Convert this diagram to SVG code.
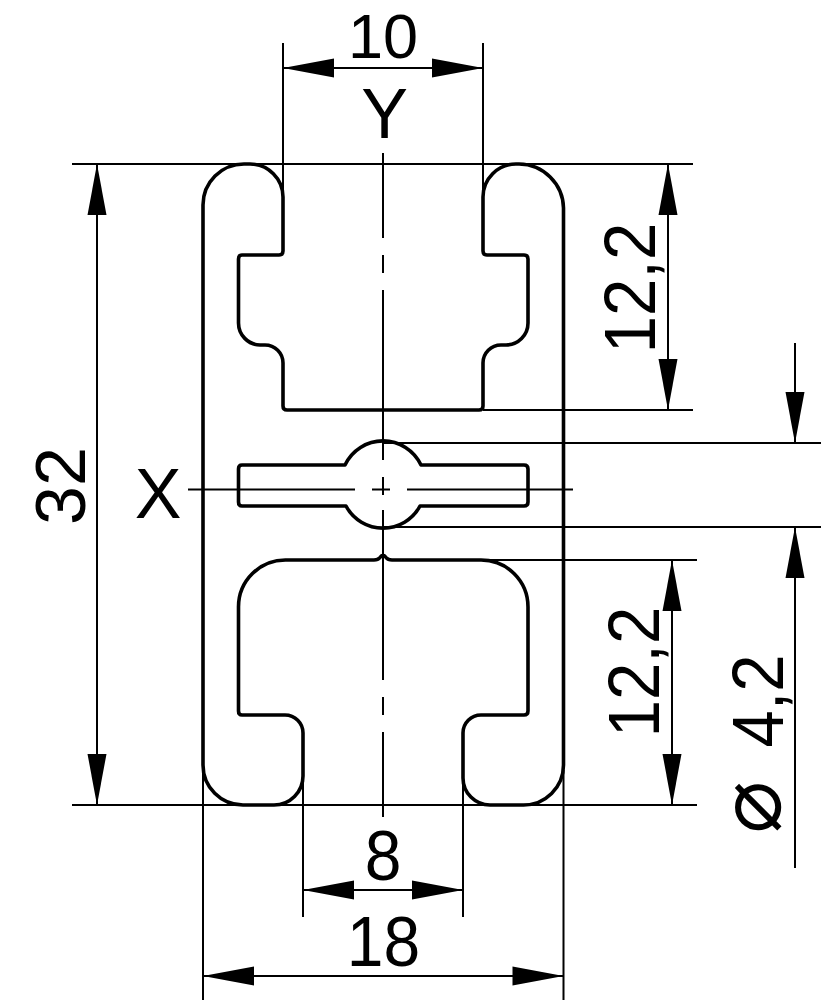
<svg xmlns="http://www.w3.org/2000/svg" width="825" height="1000" viewBox="0 0 825 1000">
<style>
.p{fill:none;stroke:#000;stroke-width:3.6;stroke-linejoin:round}
.d{fill:none;stroke:#000;stroke-width:2}
.a{fill:#000;stroke:none}
text{font-family:"Liberation Sans",Arial,sans-serif;font-size:70px;fill:#000;text-anchor:middle}
text.t{font-size:63px}
text.n{font-size:66px}
text.m{font-size:67px}
text.phi{font-family:"DejaVu Sans",sans-serif;font-size:88px}
</style>
<defs>
<polygon id="ah" class="a" points="0,0 -51,-9.500 -51,9.500"/>
</defs>
<rect width="825" height="1000" fill="#fff"/>
<g id="profile">
<path class="p" d="M203 205A41 41 0 0 1 244 164H250A33 33 0 0 1 283 197V251Q283 255 279 255H242Q238.500 255 238.500 259V323A22 22 0 0 0 260 345H265A18 18 0 0 1 283 363V406Q283 410 287 410H479Q483 410 483 406V363A18 18 0 0 1 501 345H506A22 22 0 0 0 528 323V259Q528 255 524 255H487Q483 255 483 251V197A33 33 0 0 1 516 164H519A45 45 0 0 1 563.500 208V765A40 40 0 0 1 523 805H490A27 27 0 0 1 463 778V733A18 18 0 0 1 481 715H524Q528 715 528 711V607A47 47 0 0 0 481 560H392Q388 560 386 557.500Q383 553 380 557.500Q378 560 374 560H286A47 47 0 0 0 238.500 607V711Q238.500 715 242 715H285A18 18 0 0 1 303 733V776A29 29 0 0 1 274 805H243A40 40 0 0 1 203 765Z"/>
<path class="p" d="M242 465H345A42 42 0 0 1 421 465H524Q528 465 528 469V502Q528 506 524 506H420A42 42 0 0 1 346 506H242Q238.500 506 238.500 502V469Q238.500 465 242 465Z"/>
</g>
<g id="connectors">
<path class="d" d="M383 153V238M383 255V273M383 290V460M383 477V495M383 510V680M383 697V715M383 732V817"/>
<path class="d" d="M188 489.500H355M372 489.500H390M407 489.500H573"/>
<path class="d" d="M72 164H693M72 805H697M483 410H693M480 560H697M383 443H821M383 527H821"/>
<path class="d" d="M283 43V190M483 43V190M303 780V917M463 780V917M203 770V1000M563.500 770V1000"/>
<path class="d" d="M283 68H483M303 890H463M203 976H563.500M97 164V805M668 164V410M672 560V805M795 343V443M795 527V868"/>
<use href="#ah" transform="translate(283 68) rotate(180)"/>
<use href="#ah" transform="translate(483 68)"/>
<use href="#ah" transform="translate(303 890) rotate(180)"/>
<use href="#ah" transform="translate(463 890)"/>
<use href="#ah" transform="translate(203 976) rotate(180)"/>
<use href="#ah" transform="translate(563.500 976)"/>
<use href="#ah" transform="translate(97 164) rotate(-90)"/>
<use href="#ah" transform="translate(97 805) rotate(90)"/>
<use href="#ah" transform="translate(668 164) rotate(-90)"/>
<use href="#ah" transform="translate(668 410) rotate(90)"/>
<use href="#ah" transform="translate(672 560) rotate(-90)"/>
<use href="#ah" transform="translate(672 805) rotate(90)"/>
<use href="#ah" transform="translate(795 443) rotate(90)"/>
<use href="#ah" transform="translate(795 527) rotate(-90)"/>
</g>
<g id="labels">
<text class="t" x="383" y="58">10</text>
<text x="384.500" y="138">Y</text>
<text x="158" y="518">X</text>
<text class="n" transform="translate(383 880) scale(1 1.07)">8</text>
<text class="n" transform="translate(383.500 965.500) scale(1 1.07)">18</text>
<text transform="translate(85 486) rotate(-90)">32</text>
<text class="m" transform="translate(655 288) rotate(-90) scale(1 1.07)">12,2</text>
<text class="m" transform="translate(659 672) rotate(-90) scale(1 1.07)">12,2</text>
<text class="m" transform="translate(783 701) rotate(-90) scale(1 1.07)">4,2</text>
<text class="phi" transform="translate(780 807) rotate(-90)">⌀</text>
</g>
</svg>
